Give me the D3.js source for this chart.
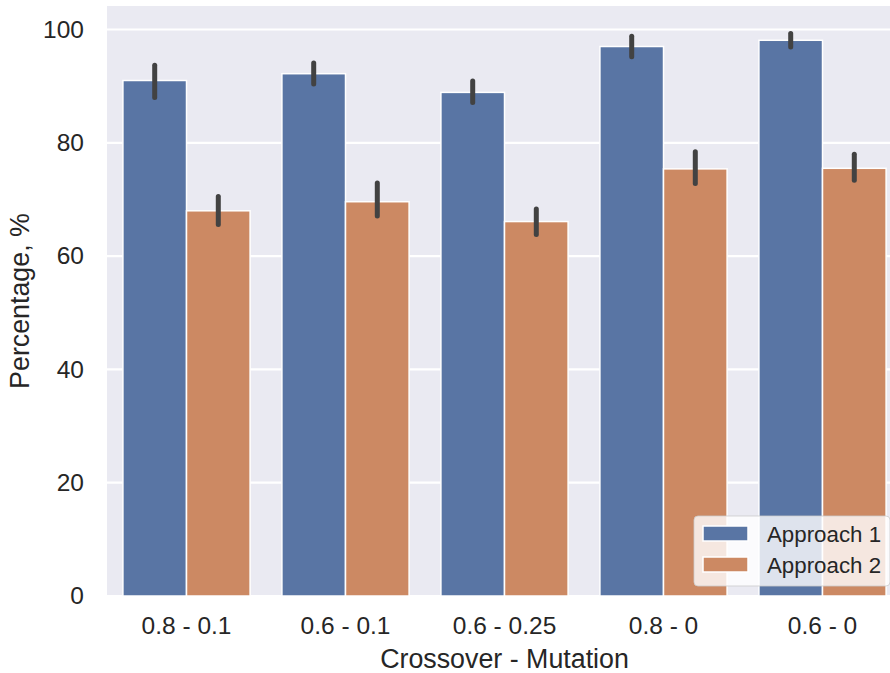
<!DOCTYPE html>
<html lang="en">
<head>
  <meta charset="UTF-8" />
  <title>Crossover - Mutation</title>
  <style>
    body {
      margin: 0;
      background: #ffffff;
    }
    svg {
      display: block;
      font-family: "Liberation Sans", Arial, sans-serif;
    }
  </style>
</head>
<body>
  <svg id="chart" width="890" height="673"></svg>

  <script src="https://d3js.org/d3.v7.min.js"></script>
  <script>
    const categories = ["0.8 - 0.1", "0.6 - 0.1", "0.6 - 0.25", "0.8 - 0", "0.6 - 0"];
    const series = ["Approach 1", "Approach 2"];
    const colors = ["#5975a4", "#cc8963"];

    const approach1 = [91.0, 92.2, 88.9, 97.0, 98.1];
    const approach1Low = [88.0, 90.4, 87.1, 95.2, 96.9];
    const approach1High = [93.7, 94.1, 90.9, 98.8, 99.3];

    const approach2 = [68.0, 69.6, 66.1, 75.4, 75.5];
    const approach2Low = [65.6, 67.1, 63.8, 72.8, 73.4];
    const approach2High = [70.5, 72.9, 68.3, 78.4, 78.0];

    const yTicks = [0, 20, 40, 60, 80, 100];

    const values = [approach1, approach2];
    const lows = [approach1Low, approach2Low];
    const highs = [approach1High, approach2High];

    // flat rows for the bars
    const rows = [];
    categories.forEach((c, i) => {
      series.forEach((s, j) => {
        rows.push({ cat: c, series: s, idx: j, value: values[j][i], lo: lows[j][i], hi: highs[j][i] });
      });
    });

    const plot = { left: 107, right: 902, top: 6, bottom: 596 };

    const svg = d3.select("#chart");

    const x = d3.scaleBand().domain(categories).range([plot.left, plot.right]).padding(0);
    const inner = d3.scaleBand().domain(series).range([0, x.bandwidth() * 0.8]).padding(0);
    const y = d3.scaleLinear().domain([0, 104.15]).range([plot.bottom, plot.top]);

    const barX = d => x(d.cat) + x.bandwidth() * 0.1 + inner(d.series);

    // background
    svg.append("rect")
      .attr("x", plot.left).attr("y", plot.top)
      .attr("width", plot.right - plot.left).attr("height", plot.bottom - plot.top)
      .attr("fill", "#eaeaf2");

    // grid
    svg.append("g")
      .selectAll("line")
      .data(yTicks)
      .join("line")
      .attr("x1", plot.left).attr("x2", plot.right)
      .attr("y1", d => y(d)).attr("y2", d => y(d))
      .attr("stroke", "#ffffff")
      .attr("stroke-width", 2.2);

    // bars
    svg.append("g")
      .selectAll("rect")
      .data(rows)
      .join("rect")
      .attr("x", barX)
      .attr("y", d => y(d.value))
      .attr("width", inner.bandwidth())
      .attr("height", d => y(0) - y(d.value))
      .attr("fill", d => colors[d.idx])
      .attr("stroke", "#ffffff")
      .attr("stroke-width", 1.5);

    // error bars
    svg.append("g")
      .selectAll("line")
      .data(rows)
      .join("line")
      .attr("x1", d => barX(d) + inner.bandwidth() / 2)
      .attr("x2", d => barX(d) + inner.bandwidth() / 2)
      .attr("y1", d => y(d.lo))
      .attr("y2", d => y(d.hi))
      .attr("stroke", "#424242")
      .attr("stroke-width", 5)
      .attr("stroke-linecap", "round");

    const tickFont = "24.5px";

    // y axis
    const yAxis = svg.append("g")
      .attr("transform", `translate(${plot.left},0)`)
      .call(d3.axisLeft(y).tickValues(yTicks).tickSize(0).tickPadding(23));
    yAxis.select(".domain").remove();
    yAxis.selectAll("text")
      .attr("fill", "#262626")
      .style("font-size", tickFont)
      .style("font-family", "'Liberation Sans', Arial, sans-serif");

    // x axis
    const xAxis = svg.append("g")
      .attr("transform", `translate(0,${plot.bottom})`)
      .call(d3.axisBottom(x).tickSize(0).tickPadding(21));
    xAxis.select(".domain").remove();
    xAxis.selectAll("text")
      .attr("fill", "#262626")
      .style("font-size", tickFont)
      .style("font-family", "'Liberation Sans', Arial, sans-serif");

    // axis titles
    svg.append("text")
      .attr("x", (plot.left + plot.right) / 2)
      .attr("y", 668)
      .attr("text-anchor", "middle")
      .attr("fill", "#262626")
      .style("font-size", "26.8px")
      .text("Crossover - Mutation");

    svg.append("text")
      .attr("transform", `translate(29,${(plot.top + plot.bottom) / 2}) rotate(-90)`)
      .attr("text-anchor", "middle")
      .attr("fill", "#262626")
      .style("font-size", "26.8px")
      .text("Percentage, %");

    // legend
    const legend = svg.append("g").attr("transform", "translate(694,516)");
    legend.append("rect")
      .attr("width", 196).attr("height", 70)
      .attr("rx", 4)
      .attr("fill", "#ffffff").attr("fill-opacity", 0.8)
      .attr("stroke", "#cccccc").attr("stroke-opacity", 0.8);

    const item = legend.selectAll("g.item")
      .data(series)
      .join("g")
      .attr("class", "item")
      .attr("transform", (d, i) => `translate(9,${10 + i * 31})`);
    item.append("rect")
      .attr("width", 45).attr("height", 15)
      .attr("fill", (d, i) => colors[i])
      .attr("stroke", "#ffffff").attr("stroke-width", 1.5);
    item.append("text")
      .attr("x", 64).attr("y", 7.5)
      .attr("dy", "0.36em")
      .attr("fill", "#262626")
      .style("font-size", "22.3px")
      .text(d => d);
  </script>
</body>
</html>
